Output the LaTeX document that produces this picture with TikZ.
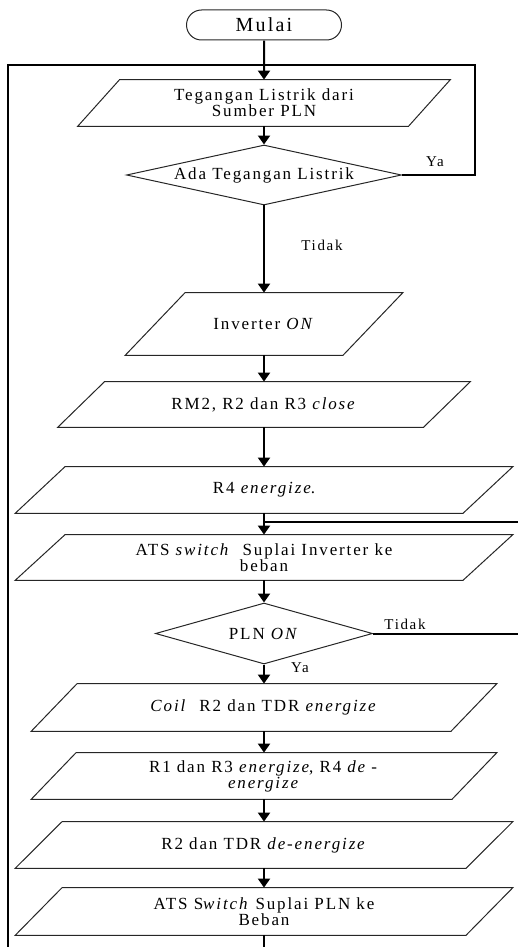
\documentclass[tikz,border=0pt]{standalone}
\usepackage{fontspec}
\setmainfont{Liberation Serif}[LetterSpace=11]
\usetikzlibrary{shapes.geometric, shapes.misc, arrows.meta}

\tikzset{
  terminal/.style={rounded rectangle, draw=black!85, line width=0.5pt, minimum width=77.5pt, minimum height=15pt, inner sep=0pt, font=\fontsize{10}{11}\selectfont},
  iobox/.style={rectangle, inner sep=0pt, align=center, font=\fontsize{8.5}{8}\selectfont},
  ioline/.style={draw=black!85, line width=0.5pt},
  decision/.style={diamond, draw=black!85, line width=0.5pt, inner sep=0pt, font=\fontsize{8.5}{8}\selectfont},
  flow/.style={line width=1pt, -{Triangle[width=6pt,length=4.5pt]}},
  loopline/.style={line width=1pt},
  answer/.style={font=\fontsize{7.5}{8}\selectfont, inner sep=0pt},
}

\begin{document}
\begin{tikzpicture}[x=0.5pt, y=-0.5pt]
    \useasboundingbox (0,0) rectangle (518,947);

    % Mulai
    \node[terminal] (mulai) at (264,25) {Mulai};

    % Sumber PLN
    \node[iobox, minimum width=186pt, minimum height=23pt] (pln) at (264,103) {Tegangan Listrik dari\\Sumber PLN};
    \node[decision, aspect=4.6, minimum width=137.5pt, minimum height=30pt] (cekpln) at (264,175) {Ada Tegangan Listrik};

    % Jalur inverter
    \node[iobox, minimum width=138.5pt, minimum height=31pt] (inverter) at (264,324) {Inverter \textit{ON}};
    \node[iobox, minimum width=206pt, minimum height=22.5pt] (rmclose) at (264,404.5) {RM2, R2 dan R3 \textit{close}};
    \node[iobox, minimum width=248.5pt, minimum height=23pt] (rempat) at (264,490) {R4 \textit{energize}.};
    \node[iobox, minimum width=248.5pt, minimum height=22.5pt] (atsinv) at (264,557.5) {ATS \textit{switch}\ \ Suplai Inverter ke\\beban};
    \node[decision, aspect=3.5, minimum width=108.5pt, minimum height=30.5pt] (plnon) at (264,633.5) {PLN \textit{ON}};

    % Kembali ke PLN
    \node[iobox, minimum width=232.5pt, minimum height=23.5pt] (coil) at (264,707.5) {\textit{Coil}\ \ R2 dan TDR \textit{energize}};
    \node[iobox, minimum width=232.5pt, minimum height=23pt] (rsatu) at (264,776) {R1 dan R3 \textit{energize}, R4 \textit{de -}\\\textit{energize}};
    \node[iobox, minimum width=248.5pt, minimum height=23pt] (tdroff) at (264,845) {R2 dan TDR \textit{de-energize}};
    \node[iobox, minimum width=248.5pt, minimum height=23.5pt] (atspln) at (264,911.5) {ATS S\textit{witch} Suplai PLN ke\\Beban};

    % Jajar genjang input/output
    \foreach \n/\s in {pln/21pt, inverter/30pt, rmclose/23.5pt, rempat/25pt, atsinv/25pt, coil/23pt, rsatu/22.5pt, tdroff/23.5pt, atspln/23.5pt}
        \draw[ioline] ([xshift=\s]\n.north west) -- (\n.north east) -- ([xshift=-\s]\n.south east) -- (\n.south west) -- cycle;

    % Label jawaban
    \node[answer] (ya1) at (435,162) {Ya};
    \node[answer] (tidak1) at (322,245) {Tidak};
    \node[answer] (tidak2) at (405,624) {Tidak};
    \node[answer] (ya2) at (300,668) {Ya};

    % Titik bantu
    \coordinate (j1) at (264,65);
    \coordinate (yatop) at (475,65);
    \coordinate (kiritop) at (8,65);
    \coordinate (bawah) at (264,985);
    \coordinate (j2) at (264,522);
    \coordinate (kanantop) at (526,522);

    % Panah
    \draw[flow] (mulai) -- (pln);
    \draw[flow] (pln) -- (cekpln);
    \draw[flow] (cekpln) -- (inverter);
    \draw[flow] (inverter) -- (rmclose);
    \draw[flow] (rmclose) -- (rempat);
    \draw[flow] (rempat) -- (atsinv);
    \draw[flow] (atsinv) -- (plnon);
    \draw[flow] (plnon) -- (coil);
    \draw[flow] (coil) -- (rsatu);
    \draw[flow] (rsatu) -- (tdroff);
    \draw[flow] (tdroff) -- (atspln);

    % Loop
    \draw[loopline] (cekpln.east) -| (yatop) -- (j1);
    \draw[loopline] (atspln.south) -- (bawah) -| (kiritop) -- (j1);
    \draw[loopline] (plnon.east) -| (kanantop) -- (j2);
\end{tikzpicture}
\end{document}
